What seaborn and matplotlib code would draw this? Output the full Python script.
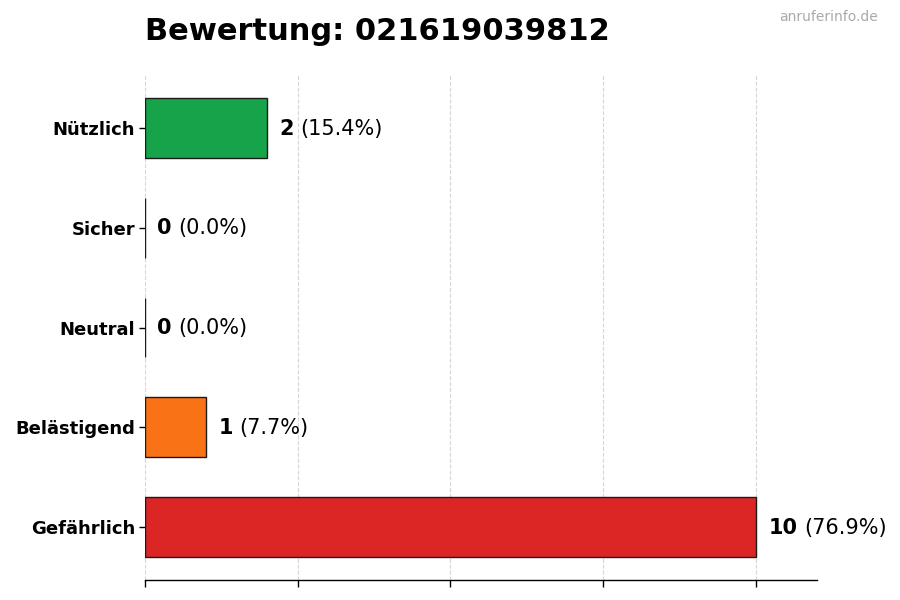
import matplotlib
matplotlib.use("Agg")
import matplotlib.pyplot as plt
import seaborn as sns

# Data
categories = ["Nützlich", "Sicher", "Neutral", "Belästigend", "Gefährlich"]
counts = [2, 0, 0, 1, 10]
bar_colors = ["#16a34a", "#15803d", "#6b7280", "#f97316", "#dc2626"]
number = "021619039812"

total = sum(counts)

sns.set_style("white")
plt.rcParams['font.family'] = ['DejaVu Sans']
plt.rcParams['text.color'] = 'black'
plt.rcParams['xtick.color'] = 'black'
plt.rcParams['ytick.color'] = 'black'

fig = plt.figure(figsize=(9, 6), dpi=100)
ax = fig.add_axes([0.161, 0.0333, 0.747, 0.8417])

sns.barplot(x=counts, y=categories, hue=categories, palette=bar_colors,
            legend=False, orient="h", width=0.6, edgecolor="#1a1a1a",
            linewidth=1, saturation=1, ax=ax)

ax.set_xlim(0, 11)
ax.set_ylim(4.53, -0.53)
ax.set_xticks([0, 2.5, 5, 7.5, 10])
ax.set_xticklabels([])
ax.grid(axis="x", linestyle="--", color="#cccccc", linewidth=0.8, alpha=0.8)
ax.set_axisbelow(True)
ax.set_xlabel("")
ax.set_ylabel("")

for side in ["top", "right", "left"]:
    ax.spines[side].set_visible(False)
ax.spines["bottom"].set_color("black")
ax.spines["bottom"].set_linewidth(1)
ax.tick_params(axis="x", bottom=True, length=5, width=1, color="black")
ax.tick_params(axis="y", left=True, length=4, width=1, color="black", pad=3)
for lbl in ax.get_yticklabels():
    lbl.set_fontweight("bold")
    lbl.set_fontsize(13)
    lbl.set_color("black")

# Value labels
for i, c in enumerate(counts):
    pct = c / total * 100
    t1 = ax.annotate(f"{c}", xy=(c, i), xytext=(9, -0.5), textcoords="offset points",
                     va="center", ha="left", fontsize=15, fontweight="bold")
    ax.annotate(f"({pct:.1f}%)", xy=(1, 0.5), xycoords=t1, xytext=(4.5, 0),
                textcoords="offset points", va="center", ha="left", fontsize=15)

fig.text(0.161, 0.948, f"Bewertung: {number}", fontsize=22, fontweight="bold",
         ha="left", va="center")
fig.text(0.975, 0.971, "anruferinfo.de", fontsize=10, color="#aaaaaa",
         ha="right", va="center")

fig.savefig("out.png", dpi=100)
